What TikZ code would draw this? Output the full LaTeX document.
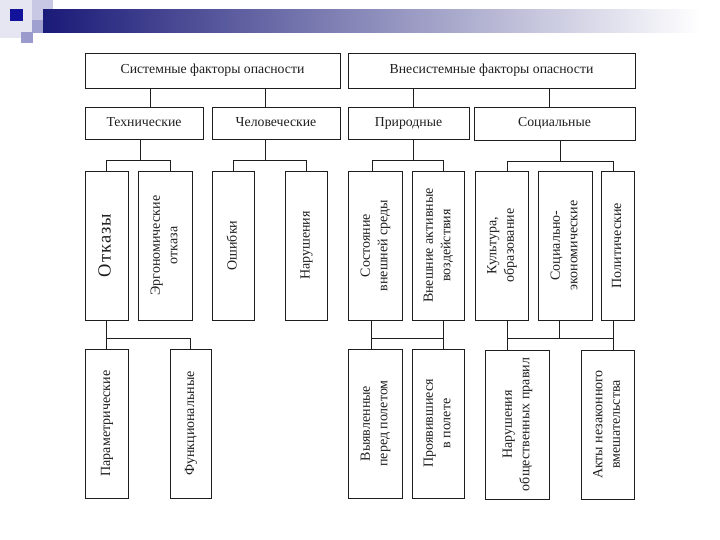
\documentclass[tikz,border=0pt]{standalone}
\usepackage{fontspec}
\setmainfont{Liberation Serif}
\definecolor{navy}{HTML}{1A1A78}
\definecolor{decoA}{HTML}{E6E6F3}
\definecolor{decoB}{HTML}{C8C8E4}
\definecolor{decoC}{HTML}{A0A0D0}
\definecolor{decoD}{HTML}{12129A}
\definecolor{decoE}{HTML}{9A9ACC}
\definecolor{ink}{HTML}{1E1E1E}
\newcommand{\vtext}[1]{\rotatebox{90}{\begin{tabular}{@{}c@{}}#1\end{tabular}}}
\begin{document}
\begin{tikzpicture}[x=1pt,y=-1pt,
  box/.style={draw=ink,line width=0.8pt,inner sep=0pt,outer sep=0pt,text=ink,align=center},
  hbox/.style={box,font=\fontsize{13.75}{16}\selectfont,text height=9.5pt,text depth=3pt},
  tall/.style={box,minimum height=149,font=\fontsize{14}{17.5}\selectfont},
  conn/.style={draw=ink,line width=0.7pt}]
\useasboundingbox (0,0) rectangle (720,540);
% decoration
\fill[decoA] (0,0) rectangle (33,38);
\fill[decoB] (32,0) rectangle (53,33);
\shade[left color=navy,right color=white] (43,10) rectangle (700,33);
\fill[decoC] (32,20) rectangle (43,33);
\fill[decoD] (10,9) rectangle (23,21);
\fill[decoE] (21,32) rectangle (33,43);
% level 1
\node[hbox,minimum width=255,minimum height=35] (sys) at (212.5,70.5) {Системные факторы опасности};
\node[hbox,minimum width=287,minimum height=35] (ext) at (491.5,70.5) {Внесистемные факторы опасности};
% level 2
\node[hbox,minimum width=118,minimum height=32] (tech) at (144,123) {Технические};
\node[hbox,minimum width=128,minimum height=32] (hum) at (276,123) {Человеческие};
\node[hbox,minimum width=121,minimum height=32] (nat) at (408.5,123) {Природные};
\node[hbox,minimum width=161,minimum height=33] (soc) at (554.5,123.5) {Социальные};
% level 3
\node[tall,minimum width=43,font=\fontsize{18.5}{20}\selectfont\addfontfeature{LetterSpace=6}] (otk) at (106.5,245.5) {\vtext{Отказы}};
\node[tall,minimum width=54] (erg) at (165,245.5) {\vtext{Эргономические\\отказа}};
\node[tall,minimum width=42] (osh) at (233,245.5) {\vtext{Ошибки}};
\node[tall,minimum width=42] (nar) at (306,245.5) {\vtext{Нарушения}};
\node[tall,minimum width=54] (sost) at (375,245.5) {\vtext{Состояние\\внешней среды}};
\node[tall,minimum width=52] (vne) at (438,245.5) {\vtext{Внешние активные\\воздействия}};
\node[tall,minimum width=53] (kul) at (501.5,245.5) {\vtext{Культура,\\образование}};
\node[tall,minimum width=54] (sec) at (565,245.5) {\vtext{Социально-\\экономические}};
\node[tall,minimum width=33] (pol) at (617.5,245.5) {\vtext{Политические}};
% level 4
\node[tall,minimum width=43] (par) at (106.5,423.5) {\vtext{Параметрические}};
\node[tall,minimum width=41] (fun) at (190.5,423.5) {\vtext{Функциональные}};
\node[tall,minimum width=54] (vyy) at (375,423.5) {\vtext{Выявленные\\перед полетом}};
\node[tall,minimum width=52] (pro) at (438,423.5) {\vtext{Проявившиеся\\в полете}};
\node[tall,minimum width=64] (nob) at (517,424.5) {\vtext{Нарушения\\общественных правил}};
\node[tall,minimum width=53] (akt) at (607.5,424.5) {\vtext{Акты незаконного\\вмешательства}};
% connectors level 1-2
\draw[conn] ([xshift=6]tech.north) -- ([xshift=6]tech.north |- sys.south);
\draw[conn] ([xshift=-11]hum.north) -- ([xshift=-11]hum.north |- sys.south);
\draw[conn] ([xshift=4.5]nat.north) -- ([xshift=4.5]nat.north |- ext.south);
\draw[conn] ([xshift=-5.5]soc.north) -- ([xshift=-5.5]soc.north |- ext.south);
% level 2-3
\draw[conn] ([xshift=-4]tech.south) -- ++(0,21);
\draw[conn] (otk.north) -- ++(0,-11) -| ([xshift=5]erg.north);
\draw[conn] ([xshift=-11]hum.south) -- ++(0,21);
\draw[conn] (osh.north) -- ++(0,-11) -| (nar.north);
\draw[conn] ([xshift=4.5]nat.south) -- ++(0,21);
\draw[conn] ([xshift=-3]sost.north) -- ++(0,-11) -| ([xshift=5]vne.north);
\draw[conn] ([xshift=5.5]soc.south) -- ++(0,21);
\draw[conn] ([xshift=5.5]kul.north) -- ++(0,-10) -| ([xshift=-4.5]pol.north);
% level 3-4
\draw[conn] (otk.south) -- (par.north);
\draw[conn] ([yshift=-18]otk.south) -| (fun.north);
\draw[conn] ([xshift=-4]sost.south) -- ([xshift=-4]sost.south |- vyy.north);
\draw[conn] ([xshift=5]vne.south) -- ([xshift=5]vne.south |- pro.north);
\draw[conn] ([xshift=-4,yshift=-18]sost.south) -- ([xshift=5,yshift=-18]vne.south);
\draw[conn] ([xshift=5.5]kul.south) -- ([xshift=5.5]kul.south |- nob.north);
\draw[conn] ([xshift=-4.5]pol.south) -- ([xshift=-4.5]pol.south |- akt.north);
\draw[conn] ([xshift=-6]sec.south) -- ++(0,18);
\draw[conn] ([xshift=5.5,yshift=-18]kul.south) -- ([xshift=-4.5,yshift=-18]pol.south);
\end{tikzpicture}
\end{document}
